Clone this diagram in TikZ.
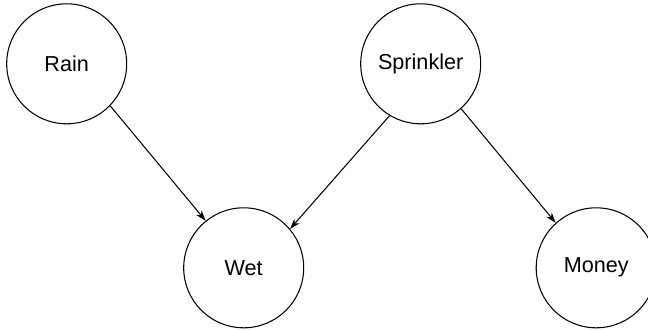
\documentclass[tikz,border=0pt]{standalone}
\usepackage{fontspec}
\setmainfont{Liberation Sans}
\usepackage{tikz}
\usetikzlibrary{positioning, arrows.meta}

\begin{document}
\begin{tikzpicture}[font=\fontsize{12.3}{14}\selectfont, >={Stealth[length=6pt,width=4pt]}, line width=0.6pt]
        % Frame
        \useasboundingbox (0,0) rectangle (12.96,-6.58);

        % Nodes
        \node[draw, circle, text=black, minimum size=2.4cm, inner sep=0pt] at (1.334,-1.276) (rain) {Rain};
        \node[draw, circle, text=black, right of=rain, node distance=7.08cm, minimum size=2.4cm, inner sep=0pt] (sprinkler) {Sprinkler};
        \node[draw, circle, text=black, below of=rain, node distance=4.08cm, xshift=3.54cm, minimum size=2.4cm, inner sep=0pt] (wet) {Wet};
        \node[draw, circle, text=black, right of=wet, node distance=7.05cm, minimum size=2.4cm, inner sep=0pt] (money) {Money};

        % Edges
        \draw[->] (rain.-44) -- (wet.129);
        \draw[->] (sprinkler.-121) -- (wet.40);
        \draw[->] (sprinkler.-48) -- (money.132);
    \end{tikzpicture}
\end{document}
